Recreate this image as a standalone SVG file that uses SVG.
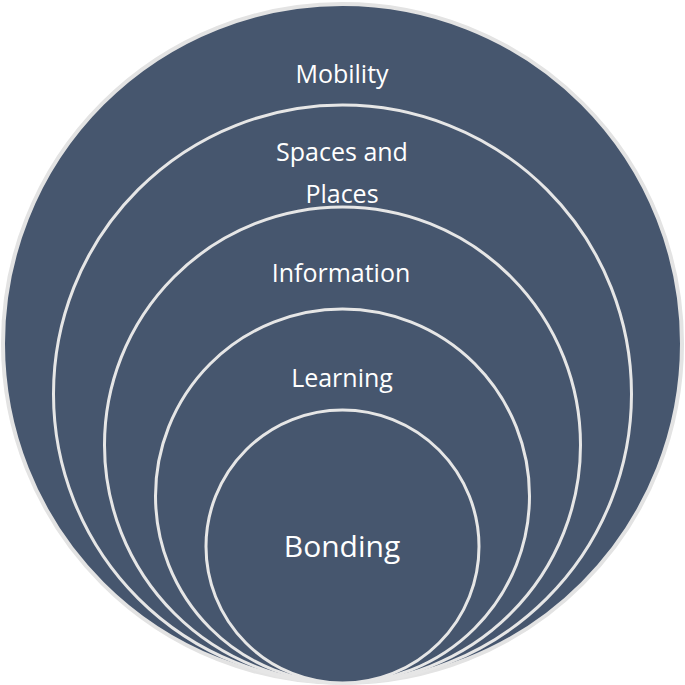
<svg xmlns="http://www.w3.org/2000/svg" width="685" height="685" viewBox="0 0 685 685">
<style>
.ring{fill:#46566e;stroke:#e6e6e6;stroke-width:3}
.outer{fill:#46566e;stroke:#e3e3e3;stroke-width:4}
.lbl{font-family:"Open Sans","Noto Sans",sans-serif;fill:#ffffff;text-anchor:middle;font-size:25px}
</style>
<rect width="685" height="685" fill="#ffffff"/>
<g id="mobility">
<circle class="outer" cx="342.5" cy="343.5" r="339.5"/>
<text class="lbl" x="342" y="83">Mobility</text>
</g>
<g id="spaces">
<circle class="ring" cx="342.5" cy="394" r="289"/>
<text class="lbl" x="342" y="161">Spaces and</text>
<text class="lbl" x="342" y="203">Places</text>
</g>
<g id="information">
<circle class="ring" cx="342.5" cy="445" r="238"/>
<text class="lbl" x="341" y="282">Information</text>
</g>
<g id="learning">
<circle class="ring" cx="342.5" cy="496" r="187"/>
<text class="lbl" x="342" y="387">Learning</text>
</g>
<g id="bonding">
<circle class="ring" cx="342.5" cy="546.5" r="136.5"/>
<text class="lbl" x="342" y="557" style="font-size:30px">Bonding</text>
</g>
<g id="connectors"/>
</svg>
